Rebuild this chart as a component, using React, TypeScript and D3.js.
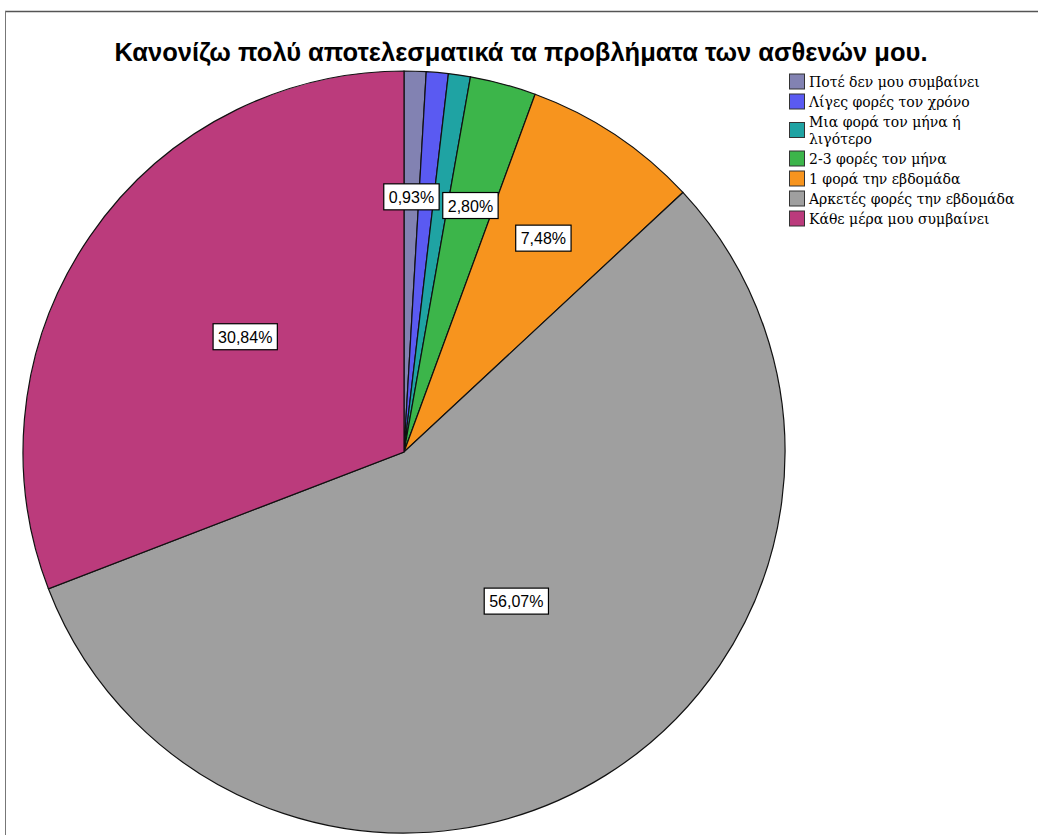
import React from "react";
import * as d3 from "d3";

const title = "Κανονίζω πολύ αποτελεσματικά τα προβλήματα των ασθενών μου.";
const categories = [
  "Ποτέ δεν μου συμβαίνει",
  "Λίγες φορές τον χρόνο",
  "Μια φορά τον μήνα ή λιγότερο",
  "2-3 φορές τον μήνα",
  "1 φορά την εβδομάδα",
  "Αρκετές φορές την εβδομάδα",
  "Κάθε μέρα μου συμβαίνει",
];
const legendLines = [
  ["Ποτέ δεν μου συμβαίνει"],
  ["Λίγες φορές τον χρόνο"],
  ["Μια φορά τον μήνα ή", "λιγότερο"],
  ["2-3 φορές τον μήνα"],
  ["1 φορά την εβδομάδα"],
  ["Αρκετές φορές την εβδομάδα"],
  ["Κάθε μέρα μου συμβαίνει"],
];
const percents = [0.93, 0.93, 0.93, 2.8, 7.48, 56.07, 30.84];
const labelShown = [true, false, false, true, true, true, true];

const colors = ["#8282b2", "#5a5af2", "#1fa3a3", "#3cb54a", "#f7941e", "#9f9f9f", "#bb3b7c"];
const labelRadiusFrac = [0.67, 0.67, 0.67, 0.67, 0.67, 0.49, 0.515];
const labelAngleShiftDeg = [0, 0, 0, 0, -0.5, -5, 1.5];

const W = 1038;
const H = 835;
const cx = 404;
const cy = 452;
const R = 381;

function textW(t: string, fs: number) {
  let w = 0;
  for (const c of t) {
    if (c === ",") w += 0.278;
    else if (c === "%") w += 0.889;
    else w += 0.556;
  }
  return w * fs;
}

export default function App() {
  const pie = d3.pie<number>().sort(null).value((d) => d)(percents);
  const arc = d3.arc<d3.PieArcDatum<number>>().innerRadius(0).outerRadius(R);
  const fmt = (v: number) => v.toFixed(2).replace(".", ",") + "%";

  let ly = 81.5;
  const legendRows = legendLines.map((lines, i) => {
    const y = ly;
    ly += 20 + (lines.length - 1) * 17;
    return { lines, y, i };
  });

  return (
    <svg
      width={W}
      height={H}
      style={{ position: "absolute", left: 0, top: 0, background: "#fff" }}
    >
      <rect x={0} y={0} width={W} height={H} fill="#fff" />
      <line x1={5} y1={11.5} x2={W} y2={11.5} stroke="#555" strokeWidth={1.5} />
      <line x1={5.5} y1={11} x2={5.5} y2={H} stroke="#777" strokeWidth={1} />
      <text
        x={521}
        y={61}
        textAnchor="middle"
        fontFamily="Liberation Sans, Arial, sans-serif"
        fontWeight="bold"
        fontSize={25.5}
        fill="#000"
      >
        {title}
      </text>
      <g transform={`translate(${cx},${cy})`}>
        {pie.map((p, i) => (
          <path key={i} d={arc(p) || ""} fill={colors[i]} stroke="#111" strokeWidth={1.2} />
        ))}
        {pie.map((p, i) => {
          if (!labelShown[i]) return null;
          const a = (p.startAngle + p.endAngle) / 2 + (labelAngleShiftDeg[i] * Math.PI) / 180;
          const r = R * labelRadiusFrac[i];
          const x = Math.sin(a) * r;
          const y = -Math.cos(a) * r;
          const t = fmt(percents[i]);
          const fs = 16;
          const w = textW(t, fs) + 10;
          const h = 26;
          return (
            <g key={"l" + i} transform={`translate(${x},${y})`}>
              <rect x={-w / 2} y={-h / 2} width={w} height={h} fill="#fff" stroke="#000" strokeWidth={1.2} />
              <text
                x={0}
                y={6}
                textAnchor="middle"
                fontFamily="Liberation Sans, Arial, sans-serif"
                fontSize={fs}
                fill="#000"
              >
                {t}
              </text>
            </g>
          );
        })}
      </g>
      <g>
        {legendRows.map(({ lines, y, i }) => (
          <g key={"g" + i}>
            <rect
              x={789.5}
              y={y - 7.5 + (lines.length - 1) * 8.5}
              width={15}
              height={15}
              fill={colors[i]}
              stroke="#333"
              strokeWidth={1}
            />
            {lines.map((ln, k) => (
              <text
                key={k}
                x={809}
                y={y + 5 + k * 17}
                fontFamily="DejaVu Serif, serif"
                fontSize={14}
                fill="#000"
              >
                {ln}
              </text>
            ))}
          </g>
        ))}
      </g>
    </svg>
  );
}
